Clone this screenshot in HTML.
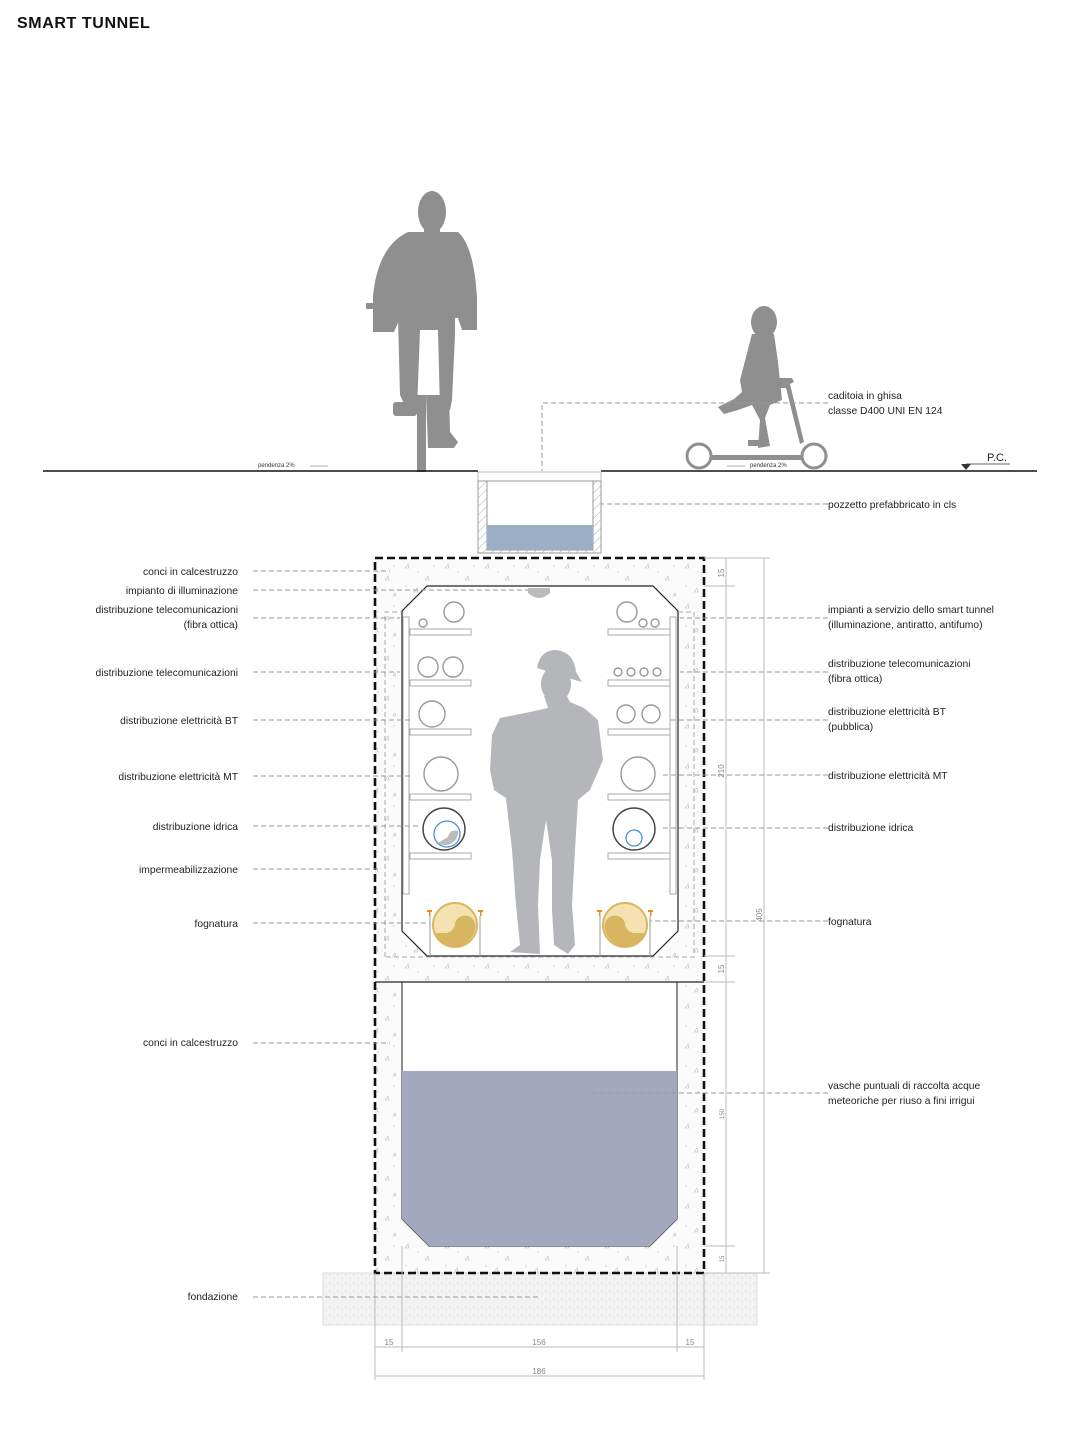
<!DOCTYPE html>
<html><head><meta charset="utf-8"><style>
html,body{margin:0;padding:0;background:#fff;}
svg{display:block}
text{font-family:"Liberation Sans",sans-serif;fill:#222;}
.l{font-size:10.3px;text-anchor:end}
.r{font-size:10.3px}
.d{stroke:#999;stroke-width:1;stroke-dasharray:5,3;fill:none}
.g{stroke:#bbb;stroke-width:1;fill:none}
.sh{fill:#fff;stroke:#aaa;stroke-width:1}
.c{fill:none;stroke:#999;stroke-width:1.4}
.dim{font-size:8px;fill:#888;text-anchor:middle}
</style></head><body>
<svg width="1080" height="1438" viewBox="0 0 1080 1438" xmlns="http://www.w3.org/2000/svg">
<defs>
<pattern id="hat" width="6" height="6" patternUnits="userSpaceOnUse" patternTransform="rotate(45)"><line x1="0" y1="0" x2="0" y2="6" stroke="#999" stroke-width="0.8"/></pattern>
<pattern id="spk" width="40" height="40" patternUnits="userSpaceOnUse"><rect width="40" height="40" fill="#fbfbfb"/><path d="M5 8l3 -4 1 4z M25 20l3-4 1 4z M14 32l3-4 1 4z M33 36l2-3 1 3z" fill="none" stroke="#bbb" stroke-width="0.6"/><circle cx="18" cy="12" r="0.7" fill="#ccc"/><circle cx="34" cy="6" r="0.7" fill="#ccc"/><circle cx="6" cy="26" r="0.7" fill="#ccc"/></pattern>
<pattern id="fnd" width="8" height="8" patternUnits="userSpaceOnUse"><rect width="8" height="8" fill="#f3f3f3"/><circle cx="2" cy="3" r="0.6" fill="#ccc"/><circle cx="6" cy="6" r="0.6" fill="#d4d4d4"/></pattern>
</defs>
<text x="17" y="28" style="font-size:16px;font-weight:bold;fill:#111;letter-spacing:0.6px">SMART TUNNEL</text>

<!-- cyclist -->
<g fill="#8f8f8f">
<ellipse cx="432" cy="212" rx="14" ry="21"/>
<rect x="424" y="225" width="16" height="12"/>
<path d="M408 232 H458 Q474 246 477 298 V330 H462 L458 318 H400 L394 332 H373 V296 Q378 246 408 232Z"/>
<rect x="366" y="303" width="110" height="6"/>
<path d="M398 318 H455 V335 L452 400 L450 410 H440 L438 330 H420 L417 410 H407 L400 395 Z"/>
<rect x="393" y="402" width="24" height="14" rx="3"/>
<path d="M426 395 H449 L450 432 L458 442 L454 448 H428Z"/>
<rect x="417" y="395" width="9" height="77"/>
</g>
<!-- child scooter -->
<g fill="#8f8f8f">
<ellipse cx="764" cy="322" rx="13" ry="16"/>
<path d="M752 334 H774 L778 362 L782 400 L770 405 L765 418 L770 446 L758 448 L760 420 L752 405 L738 410 L724 414 L718 407 L734 399 L742 392 L740 380 Z"/>
<path d="M776 378 h16 l2 4 -4 2 14 58 -4 2 -14 -56 h-10z"/>
<rect x="712" y="455" width="90" height="5"/>
<rect x="748" y="440" width="16" height="6"/>
</g>
<g fill="none" stroke="#8f8f8f" stroke-width="3"><circle cx="699" cy="456" r="12"/><circle cx="814" cy="456" r="12"/></g>
<text x="258" y="467" style="font-size:6px;fill:#333">pendenza 2%</text>
<line x1="310" y1="466" x2="328" y2="466" stroke="#666" stroke-width="0.6"/>
<text x="750" y="467" style="font-size:6px;fill:#333">pendenza 2%</text>
<line x1="727" y1="466" x2="745" y2="466" stroke="#666" stroke-width="0.6"/>

<!-- ground -->
<line x1="43" y1="471" x2="478" y2="471" stroke="#111" stroke-width="1.6"/>
<line x1="601" y1="471" x2="1037" y2="471" stroke="#111" stroke-width="1.6"/>
<path d="M961 464 h10 l-5 6z" fill="#333"/><line x1="966" y1="464" x2="1010" y2="464" stroke="#333" stroke-width="0.8"/>
<text x="987" y="461" style="font-size:11px">P.C.</text>

<!-- pozzetto -->
<rect x="478" y="472" width="123" height="9" fill="#fff" stroke="#bbb"/>
<rect x="478" y="481" width="123" height="72" fill="url(#hat)" stroke="#999"/>
<rect x="487" y="481" width="106" height="69" fill="#fff" stroke="#999"/>
<rect x="487" y="525" width="106" height="25" fill="#9bafc6"/>

<!-- tunnel concrete -->
<rect x="375" y="558" width="329" height="715" fill="url(#spk)"/>
<rect x="323" y="1273" width="434" height="52" fill="url(#fnd)" stroke="#ddd"/>
<path d="M427 586 H653 L678 611 V931 L653 956 H427 L402 931 V611Z" fill="#fff" stroke="#222" stroke-width="1.2"/>
<rect x="402" y="982" width="275" height="264" fill="url(#spk)"/>
<path d="M402 982 H677 V1219 L650 1246 H429 L402 1219Z" fill="#fff" stroke="#222" stroke-width="1"/>
<line x1="375" y1="982" x2="704" y2="982" stroke="#222" stroke-width="1.2"/>
<path d="M402 1071 H677 V1219 L650 1246 H429 L402 1219Z" fill="#a2a8bd"/>
<rect x="375" y="558" width="329" height="715" fill="none" stroke="#111" stroke-width="2.6" stroke-dasharray="8,4"/>
<!-- waterproofing dashed -->
<path d="M385 957 V612 H402 M678 612 H694 V957 H385" class="d" style="stroke:#aaa"/>
<path d="M528 588 h22 v5 q-11 10 -22 0z" fill="#bbb"/>

<!-- shelves/uprights -->
<rect x="403" y="617" width="6" height="277" class="sh"/>
<rect x="670" y="617" width="6" height="277" class="sh"/>
<g class="sh">
<rect x="410" y="629" width="61" height="6"/><rect x="410" y="680" width="61" height="6"/><rect x="410" y="729" width="61" height="6"/><rect x="410" y="794" width="61" height="6"/><rect x="410" y="853" width="61" height="6"/>
<rect x="608" y="629" width="62" height="6"/><rect x="608" y="680" width="62" height="6"/><rect x="608" y="729" width="62" height="6"/><rect x="608" y="794" width="62" height="6"/><rect x="608" y="853" width="62" height="6"/>
</g>
<g class="c">
<circle cx="423" cy="623" r="4"/><circle cx="454" cy="612" r="10"/>
<circle cx="428" cy="667" r="10"/><circle cx="453" cy="667" r="10"/>
<circle cx="432" cy="714" r="13"/><circle cx="441" cy="774" r="17"/>
<circle cx="627" cy="612" r="10"/><circle cx="643" cy="623" r="4"/><circle cx="655" cy="623" r="4"/>
<circle cx="618" cy="672" r="4"/><circle cx="631" cy="672" r="4"/><circle cx="644" cy="672" r="4"/><circle cx="657" cy="672" r="4"/>
<circle cx="626" cy="714" r="9"/><circle cx="651" cy="714" r="9"/><circle cx="638" cy="774" r="17"/>
</g>
<circle cx="444" cy="829" r="21" fill="none" stroke="#444" stroke-width="1.5"/>
<circle cx="447" cy="834" r="13" fill="none" stroke="#4a90d0" stroke-width="1.3"/>
<path d="M438 843 a13 13 0 0 0 20 -12 q-8 -2 -10 6z" fill="#bbb"/>
<circle cx="634" cy="829" r="21" fill="none" stroke="#444" stroke-width="1.5"/>
<circle cx="634" cy="838" r="8" fill="none" stroke="#4a90d0" stroke-width="1.3"/>
<!-- sewer -->
<g>
<circle cx="455" cy="925" r="22" fill="#f4e2b0" stroke="#d9b860" stroke-width="2"/>
<path d="M455 947 a22 22 0 0 1 -20 -14 h10 a10 10 0 0 0 10 -10 a10 10 0 0 1 20 6 a22 22 0 0 1 -20 18z" fill="#d8b560"/>
<circle cx="625" cy="925" r="22" fill="#f4e2b0" stroke="#d9b860" stroke-width="2"/>
<path d="M625 947 a22 22 0 0 0 20 -14 h-10 a10 10 0 0 1 -10 -10 a10 10 0 0 0 -20 6 a22 22 0 0 0 20 18z" fill="#d8b560"/>
<g fill="#f08a1a"><rect x="427" y="910" width="5" height="2"/><rect x="429" y="910" width="1.5" height="6"/><rect x="478" y="910" width="5" height="2"/><rect x="480" y="910" width="1.5" height="6"/>
<rect x="597" y="910" width="5" height="2"/><rect x="599" y="910" width="1.5" height="6"/><rect x="648" y="910" width="5" height="2"/><rect x="650" y="910" width="1.5" height="6"/></g>
<g stroke="#aaa" stroke-width="1.2"><line x1="430" y1="916" x2="430" y2="956"/><line x1="480" y1="916" x2="480" y2="956"/><line x1="600" y1="916" x2="600" y2="956"/><line x1="650" y1="916" x2="650" y2="956"/></g>
</g>
<!-- worker -->
<g fill="#b5b6ba">
<path d="M537 668 Q540 650 556 650 Q574 652 576 672 L582 682 L568 678 Z"/>
<ellipse cx="556" cy="684" rx="15" ry="18"/>
<path d="M544 696 L548 708 L530 712 L500 718 L492 735 L490 770 L494 790 L506 798 L512 850 L516 905 L520 945 L510 952 L540 954 L538 905 L540 860 L546 820 L552 860 L552 910 L554 945 L568 954 L575 945 L572 905 L575 850 L578 800 L590 790 L603 760 L598 720 L584 708 L570 702 L566 694Z"/>
</g>

<!-- dimensions -->
<g class="g">
<line x1="704" y1="558" x2="770" y2="558"/><line x1="704" y1="586" x2="735" y2="586"/><line x1="704" y1="956" x2="735" y2="956"/><line x1="704" y1="982" x2="735" y2="982"/><line x1="704" y1="1246" x2="735" y2="1246"/><line x1="704" y1="1273" x2="770" y2="1273"/>
<line x1="726" y1="558" x2="726" y2="1273"/><line x1="764" y1="558" x2="764" y2="1273"/>
<line x1="375" y1="1273" x2="375" y2="1380"/><line x1="402" y1="1246" x2="402" y2="1352"/><line x1="677" y1="1246" x2="677" y2="1352"/><line x1="704" y1="1273" x2="704" y2="1380"/>
<line x1="375" y1="1347" x2="704" y2="1347"/><line x1="375" y1="1376" x2="704" y2="1376"/>
</g>
<text class="dim" x="389" y="1345">15</text><text class="dim" x="539" y="1345">156</text><text class="dim" x="690" y="1345">15</text><text class="dim" x="539" y="1374">186</text>
<text class="dim" transform="translate(724 573) rotate(-90)">15</text>
<text class="dim" transform="translate(724 771) rotate(-90)">210</text>
<text class="dim" transform="translate(724 969) rotate(-90)">15</text>
<text class="dim" transform="translate(724 1114) rotate(-90)" style="font-size:6px">150</text>
<text class="dim" transform="translate(724 1259) rotate(-90)" style="font-size:6px">15</text>
<text class="dim" transform="translate(762 915) rotate(-90)">405</text>

<!-- leaders -->
<g class="d">
<path d="M253 571H390M253 590H528M253 618H400M253 672H400M253 720H410M253 776H410M253 826H420M253 869H380M253 923H430M253 1043H390M253 1297H540"/>
<path d="M828 403H542V471M828 504H601M828 618H680M828 672H680M828 720H670M828 775H660M828 828H660M828 921H650M828 1093H592"/>
</g>
<g class="l">
<text x="238" y="575">conci in calcestruzzo</text>
<text x="238" y="594">impianto di illuminazione</text>
<text x="238" y="613">distribuzione telecomunicazioni</text>
<text x="238" y="628">(fibra ottica)</text>
<text x="238" y="676">distribuzione telecomunicazioni</text>
<text x="238" y="724">distribuzione elettricità BT</text>
<text x="238" y="780">distribuzione elettricità MT</text>
<text x="238" y="830">distribuzione idrica</text>
<text x="238" y="873">impermeabilizzazione</text>
<text x="238" y="927">fognatura</text>
<text x="238" y="1046">conci in calcestruzzo</text>
<text x="238" y="1300">fondazione</text>
</g>
<g class="r">
<text x="828" y="399">caditoia in ghisa</text>
<text x="828" y="414">classe D400 UNI EN 124</text>
<text x="828" y="508">pozzetto prefabbricato in cls</text>
<text x="828" y="613">impianti a servizio dello smart tunnel</text>
<text x="828" y="628">(illuminazione, antiratto, antifumo)</text>
<text x="828" y="667">distribuzione telecomunicazioni</text>
<text x="828" y="682">(fibra ottica)</text>
<text x="828" y="715">distribuzione elettricità BT</text>
<text x="828" y="730">(pubblica)</text>
<text x="828" y="779">distribuzione elettricità MT</text>
<text x="828" y="831">distribuzione idrica</text>
<text x="828" y="925">fognatura</text>
<text x="828" y="1089">vasche puntuali di raccolta acque</text>
<text x="828" y="1104">meteoriche per riuso a fini irrigui</text>
</g>
</svg>
</body></html>
